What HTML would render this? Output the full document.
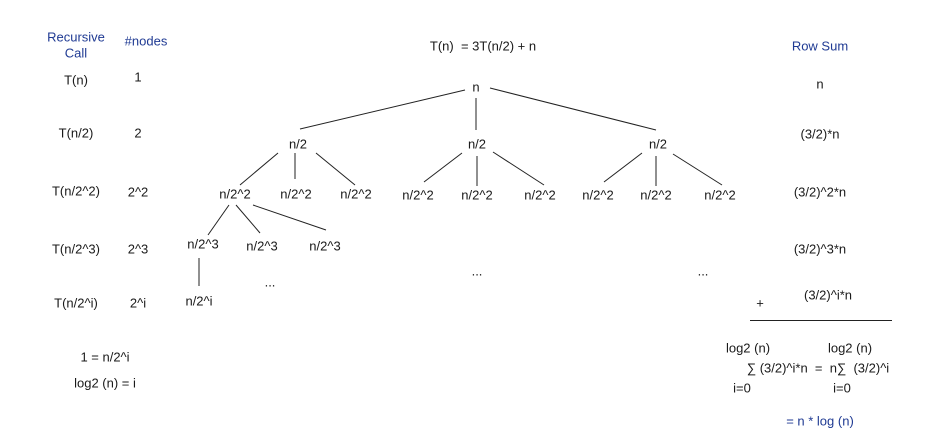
<!DOCTYPE html>
<html><head><meta charset="utf-8"><style>
html,body{margin:0;padding:0;background:#fff;}
svg{display:block;}
text{font-family:"Liberation Sans","DejaVu Sans",sans-serif;font-size:13px;fill:#1a1a1a;text-anchor:middle;dominant-baseline:middle;white-space:pre;}
.b{fill:#1f3a93;}
line{stroke:#222;stroke-width:1;}
</style></head><body>
<svg width="940" height="440" viewBox="0 0 940 440" xml:space="preserve">
<text class="b" x="76" y="38">Recursive</text>
<text class="b" x="76" y="54">Call</text>
<text class="b" x="146" y="42">#nodes</text>
<text x="76" y="81">T(n)</text><text x="138" y="78">1</text>
<text x="76" y="134">T(n/2)</text><text x="138" y="134">2</text>
<text x="76" y="192">T(n/2^2)</text><text x="138" y="193">2^2</text>
<text x="76" y="250">T(n/2^3)</text><text x="138" y="250">2^3</text>
<text x="76" y="304">T(n/2^i)</text><text x="138" y="304">2^i</text>
<text x="105" y="358">1 = n/2^i</text>
<text x="105" y="384">log2 (n) = i</text>

<text x="483" y="47">T(n)  = 3T(n/2) + n</text>
<text class="b" x="820" y="47">Row Sum</text>
<text x="820" y="85">n</text>
<text x="820" y="135">(3/2)*n</text>
<text x="820" y="193">(3/2)^2*n</text>
<text x="820" y="250">(3/2)^3*n</text>
<text x="828" y="296">(3/2)^i*n</text>
<text x="760" y="304">+</text>
<line x1="750" y1="320.5" x2="892" y2="320.5"/>
<text x="748" y="349">log2 (n)</text>
<text x="850" y="349">log2 (n)</text>
<text x="818" y="369">∑ (3/2)^i*n  =  n∑  (3/2)^i</text>
<text x="742" y="389">i=0</text>
<text x="842" y="389">i=0</text>
<text class="b" x="820" y="422">= n * log (n)</text>

<text x="476" y="88">n</text>
<line x1="465" y1="90" x2="300" y2="129"/>
<line x1="476" y1="98" x2="476" y2="130"/>
<line x1="490" y1="88" x2="656" y2="130"/>
<text x="298" y="145">n/2</text><text x="477" y="145">n/2</text><text x="658" y="145">n/2</text>
<line x1="278" y1="153" x2="240" y2="185"/><line x1="295" y1="153" x2="295" y2="179"/><line x1="316" y1="153" x2="355" y2="185"/>
<line x1="462" y1="153" x2="424" y2="182"/><line x1="477" y1="156" x2="477" y2="186"/><line x1="493" y1="152" x2="544" y2="185"/>
<line x1="642" y1="153" x2="604" y2="182"/><line x1="656" y1="156" x2="656" y2="186"/><line x1="673" y1="154" x2="722" y2="185"/>
<text x="235" y="195">n/2^2</text><text x="296" y="195">n/2^2</text><text x="356" y="195">n/2^2</text>
<text x="418" y="196">n/2^2</text><text x="477" y="196">n/2^2</text><text x="540" y="196">n/2^2</text>
<text x="598" y="196">n/2^2</text><text x="656" y="196">n/2^2</text><text x="720" y="196">n/2^2</text>
<line x1="229" y1="205" x2="208" y2="235"/><line x1="236" y1="205" x2="260" y2="233"/><line x1="253" y1="205" x2="326" y2="230"/>
<text x="203" y="245">n/2^3</text><text x="262" y="247">n/2^3</text><text x="325" y="247">n/2^3</text>
<line x1="199" y1="258" x2="199" y2="286"/>
<text x="199" y="302">n/2^i</text>
<text x="270" y="283">...</text>
<text x="477" y="272">...</text>
<text x="703" y="272">...</text>
</svg>
</body></html>
